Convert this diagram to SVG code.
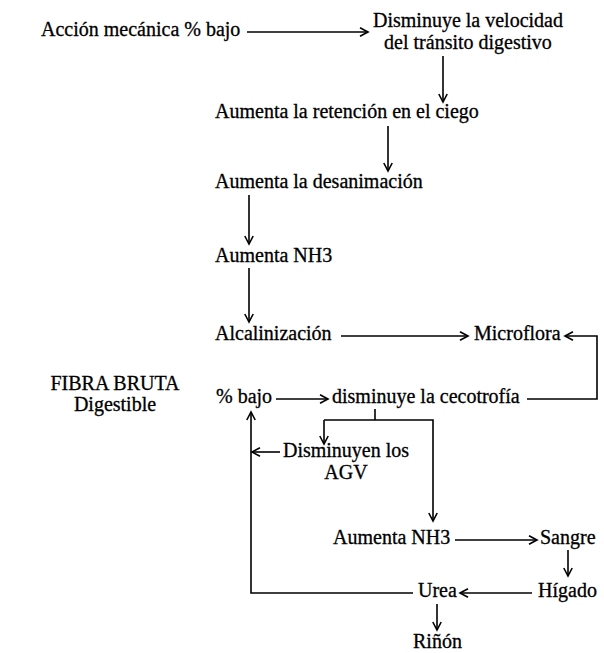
<svg xmlns="http://www.w3.org/2000/svg" width="604" height="653" viewBox="0 0 604 653">
<defs>
<style>
text{font-family:"Liberation Serif","Times New Roman",serif;font-size:20px;fill:#000;stroke:#000;stroke-width:0.3}
.c{stroke:#000;stroke-width:1.6;fill:none}
.m{text-anchor:middle}
</style>
<marker id="ah" markerWidth="12" markerHeight="12" refX="9" refY="5" orient="auto" markerUnits="userSpaceOnUse" viewBox="0 0 12 10">
<path d="M1,0.8 L9,5 L1,9.2" fill="none" stroke="#000" stroke-width="1.6"/>
</marker>
</defs>
<rect width="604" height="653" fill="#fff"/>
<g id="connectors">
<line class="c" x1="247" y1="32" x2="368" y2="32" marker-end="url(#ah)"/>
<line class="c" x1="443" y1="56" x2="443" y2="102" marker-end="url(#ah)"/>
<line class="c" x1="388" y1="126" x2="388" y2="171" marker-end="url(#ah)"/>
<line class="c" x1="249" y1="195" x2="249" y2="244" marker-end="url(#ah)"/>
<line class="c" x1="249" y1="268" x2="249" y2="322" marker-end="url(#ah)"/>
<line class="c" x1="341" y1="336" x2="468" y2="336" marker-end="url(#ah)"/>
<polyline class="c" points="527,399 597,399 597,336 565,336" marker-end="url(#ah)"/>
<line class="c" x1="276" y1="399" x2="328" y2="399" marker-end="url(#ah)"/>
<line class="c" x1="375" y1="409" x2="375" y2="420"/>
<polyline class="c" points="324,420 433,420 433,521" marker-end="url(#ah)"/>
<line class="c" x1="324" y1="420" x2="324" y2="444" marker-end="url(#ah)"/>
<line class="c" x1="280" y1="452" x2="252" y2="452" marker-end="url(#ah)"/>
<polyline class="c" points="413,593 251,593 251,412" marker-end="url(#ah)"/>
<line class="c" x1="455" y1="540" x2="537" y2="540" marker-end="url(#ah)"/>
<line class="c" x1="568" y1="550" x2="568" y2="576" marker-end="url(#ah)"/>
<line class="c" x1="532" y1="593" x2="460" y2="593" marker-end="url(#ah)"/>
<line class="c" x1="437" y1="604" x2="437" y2="630" marker-end="url(#ah)"/>
</g>
<g id="n1"><text x="41" y="36">Acción mecánica % bajo</text></g>
<g id="n2"><text class="m" x="468" y="27">Disminuye la velocidad</text><text class="m" x="468" y="49">del tránsito digestivo</text></g>
<g id="n3"><text x="215" y="118">Aumenta la retención en el ciego</text></g>
<g id="n4"><text x="215" y="188">Aumenta la desanimación</text></g>
<g id="n5"><text x="215" y="262">Aumenta NH3</text></g>
<g id="n6"><text x="215" y="340">Alcalinización</text></g>
<g id="n7"><text x="474" y="340">Microflora</text></g>
<g id="n8"><text class="m" x="115" y="390">FIBRA BRUTA</text><text class="m" x="115" y="411">Digestible</text></g>
<g id="n9"><text x="216" y="403">% bajo</text></g>
<g id="n10"><text x="332" y="403">disminuye la cecotrofía</text></g>
<g id="n11"><text class="m" x="346" y="457">Disminuyen los</text><text class="m" x="346" y="479">AGV</text></g>
<g id="n12"><text x="333" y="544">Aumenta NH3</text></g>
<g id="n13"><text x="540" y="544">Sangre</text></g>
<g id="n14"><text x="538" y="597">Hígado</text></g>
<g id="n15"><text x="418" y="597">Urea</text></g>
<g id="n16"><text x="413" y="648">Riñón</text></g>
</svg>
